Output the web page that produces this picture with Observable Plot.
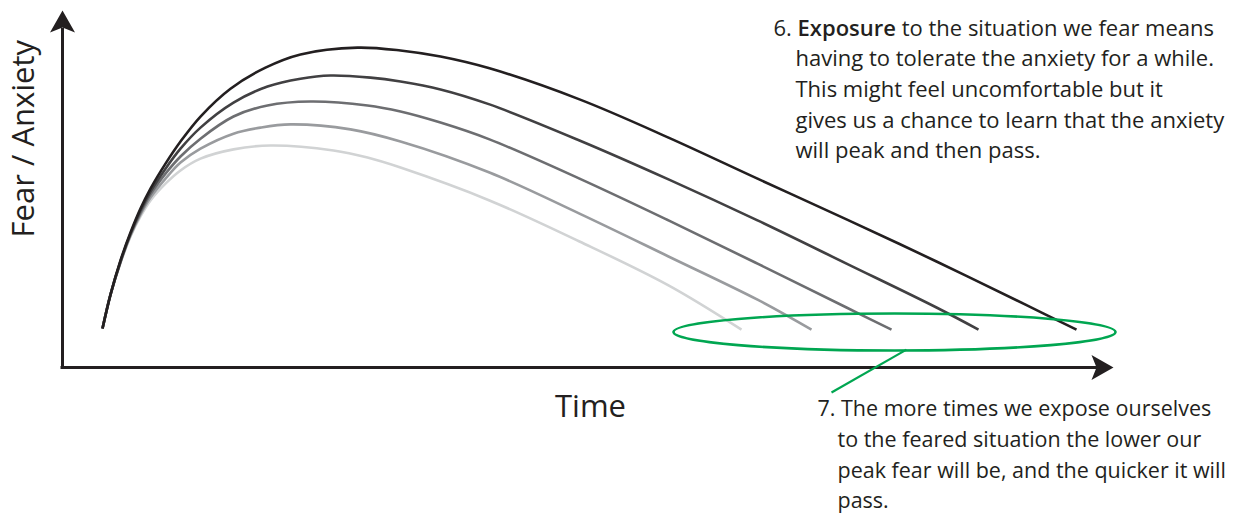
<!DOCTYPE html>
<html>
<head>
<meta charset="utf-8">
<script src="https://cdn.jsdelivr.net/npm/d3@7"></script>
<script src="https://cdn.jsdelivr.net/npm/@observablehq/plot@0.6"></script>
<style>
  html, body { margin: 0; padding: 0; background: #fff; }
  svg { display: block; }
</style>
</head>
<body>
<div id="chart"></div>
<script>
// ---- data (time and fear in arbitrary units) ----
const exposures = ["1st exposure", "2nd exposure", "3rd exposure", "4th exposure", "5th exposure"];
const curveColors = ["#231f20", "#414042", "#6d6e71", "#999b9e", "#d1d3d4"];

const times1 = [4.0, 4.8, 5.8, 6.8, 7.8, 8.8, 10.3, 11.8, 13.8, 16.8, 20.3, 23.8, 29.5, 33.8, 37.8, 42.7, 51.7, 60.6, 69.5, 78.4, 87.4, 96.3, 101.4];
const fears1 = [10.9, 20.4, 30.0, 37.8, 44.5, 50.1, 57.1, 63.3, 70.3, 78.1, 84.0, 87.7, 89.6, 88.8, 87.1, 83.8, 75.1, 64.4, 52.9, 41.5, 29.7, 17.6, 10.6];

const times2 = [4.0, 4.8, 5.8, 6.8, 7.8, 8.8, 10.3, 11.8, 13.8, 17.1, 20.5, 23.8, 26.8, 30.8, 33.8, 37.8, 42.7, 51.7, 60.6, 69.5, 78.4, 87.4, 91.6];
const fears2 = [10.9, 20.4, 29.7, 37.5, 44.0, 49.3, 55.7, 61.3, 67.2, 74.2, 78.7, 80.9, 81.8, 81.2, 80.1, 77.9, 73.7, 63.6, 52.7, 41.2, 29.1, 16.8, 10.6];

const times3 = [4.0, 4.8, 5.8, 6.8, 7.8, 8.8, 10.3, 11.8, 13.8, 17.1, 20.5, 24.8, 30.5, 33.8, 37.8, 42.7, 51.7, 60.6, 69.5, 78.4, 82.9];
const fears3 = [10.9, 20.4, 29.7, 37.3, 43.4, 48.5, 54.3, 59.1, 64.1, 70.3, 73.4, 74.5, 73.4, 71.7, 68.6, 63.9, 52.9, 41.2, 29.1, 16.8, 10.6];

const times4 = [4.0, 4.8, 5.8, 6.8, 7.8, 8.8, 10.3, 11.8, 13.8, 17.1, 19.8, 22.8, 28.8, 33.8, 42.7, 51.7, 60.6, 69.5, 74.9];
const fears4 = [10.9, 20.4, 29.4, 37.0, 42.9, 47.6, 52.9, 57.4, 61.3, 65.5, 67.2, 68.1, 66.7, 63.3, 54.6, 43.1, 31.1, 19.0, 10.6];

const times5 = [4.0, 4.8, 5.8, 6.8, 7.8, 8.8, 10.3, 11.8, 13.8, 17.1, 20.8, 27.1, 30.5, 33.8, 42.7, 51.7, 60.6, 67.9];
const fears5 = [10.9, 20.4, 29.4, 36.7, 42.3, 46.8, 51.5, 55.2, 58.5, 61.1, 62.2, 60.8, 58.8, 56.0, 46.8, 35.3, 23.0, 10.6];

const yLabel = "Fear / Anxiety";
const xLabel = "Time";
const note6 = [
  "6. Exposure to the situation we fear means",
  "having to tolerate the anxiety for a while.",
  "This might feel uncomfortable but it",
  "gives us a chance to learn that the anxiety",
  "will peak and then pass."
];
const note7 = [
  "7. The more times we expose ourselves",
  "to the feared situation the lower our",
  "peak fear will be, and the quicker it will",
  "pass."
];

// ---- table for the library ----
const allTimes = [times1, times2, times3, times4, times5];
const allFears = [fears1, fears2, fears3, fears4, fears5];
const rows = [];
for (let i = exposures.length - 1; i >= 0; --i) {   // lightest drawn first
  allTimes[i].forEach((v, j) => rows.push({exposure: exposures[i], time: v, fear: allFears[i][j]}));
}

// ---- shapes ----
const ink = "#231f20";
const green = "#00a651";
const arrowHead = {
  draw(ctx) {  // tip at origin, pointing up
    ctx.moveTo(0, 0);
    ctx.lineTo(12.5, 22);
    ctx.lineTo(0, 17);
    ctx.lineTo(-12.5, 22);
    ctx.closePath();
  }
};
const ellipse = {
  draw(ctx) {
    const rx = 221, ry = 18.5, k = 0.5523;
    ctx.moveTo(rx, 0);
    ctx.bezierCurveTo(rx, ry * k, rx * k, ry, 0, ry);
    ctx.bezierCurveTo(-rx * k, ry, -rx, ry * k, -rx, 0);
    ctx.bezierCurveTo(-rx, -ry * k, -rx * k, -ry, 0, -ry);
    ctx.bezierCurveTo(rx * k, -ry, rx, -ry * k, rx, 0);
    ctx.closePath();
  }
};

const xMax = 105.1, yMax = 100;
const lineStep = 8.57;

const chart = Plot.plot({
  width: 1260,
  height: 514,
  marginLeft: 62,
  marginRight: 147,
  marginTop: 10,
  marginBottom: 147,
  x: {domain: [0, xMax], axis: null},
  y: {domain: [0, yMax], axis: null},
  color: {type: "ordinal", domain: exposures, range: curveColors},
  style: {fontFamily: "'Open Sans', 'Noto Sans', sans-serif", background: "#fff", color: ink},
  marks: [
    // axes
    Plot.ruleX([0], {y1: 0, y2: 95, stroke: ink, strokeWidth: 3}),
    Plot.ruleY([0], {x1: -0.15, x2: 103.6, stroke: ink, strokeWidth: 3}),
    Plot.dot([0], {x: 0, y: yMax, symbol: arrowHead, r: 10, fill: ink, stroke: "none"}),
    Plot.dot([0], {x: xMax, y: 0, symbol: arrowHead, rotate: 90, r: 10, fill: ink, stroke: "none"}),
    // curves
    Plot.line(rows, {x: "time", y: "fear", z: "exposure", stroke: "exposure", strokeWidth: 2.6, curve: "catmull-rom", strokeLinecap: "butt"}),
    // green ellipse and pointer
    Plot.dot([0], {x: 83.2, y: 9.94, symbol: ellipse, r: 10, fill: "none", stroke: green, strokeWidth: 2.6}),
    Plot.link([0], {x1: 84.4, y1: 5.0, x2: 76.9, y2: -7.0, stroke: green, strokeWidth: 2.2}),
    // axis labels
    Plot.text([yLabel], {text: d => d, x: -2.9, y: 64.1, rotate: -90, lineAnchor: "bottom", textAnchor: "middle", fontSize: 31, fill: ink}),
    Plot.text([xLabel], {text: d => d, x: 52.8, y: -14.0, lineAnchor: "bottom", textAnchor: "middle", fontSize: 31, fill: ink}),
    // annotations
    Plot.text(note6, {text: d => d, x: (d, i) => i === 0 ? 71.1 : 73.3, y: (d, i) => 92.9 - i * lineStep, lineAnchor: "bottom", textAnchor: "start", fontSize: 22, fill: ink}),
    Plot.text(note7, {text: d => d, x: (d, i) => i === 0 ? 75.5 : 77.5, y: (d, i) => -13.7 - i * lineStep, lineAnchor: "bottom", textAnchor: "start", fontSize: 21.5, fill: ink})
  ]
});

// bold "Exposure" inside the first note line
const NS = "http://www.w3.org/2000/svg";
chart.querySelectorAll("text").forEach(t => {
  if (t.textContent === note6[0]) {
    const word = "Exposure";
    const k = note6[0].indexOf(word);
    const parts = [[note6[0].slice(0, k), null], [word, "600"], [note6[0].slice(k + word.length), null]];
    t.textContent = "";
    t.setAttribute("style", "white-space: pre");
    for (const [s, w] of parts) {
      const sp = document.createElementNS(NS, "tspan");
      sp.textContent = s;
      if (w) sp.setAttribute("font-weight", w);
      t.appendChild(sp);
    }
  }
});

document.getElementById("chart").appendChild(chart);
</script>
</body>
</html>
